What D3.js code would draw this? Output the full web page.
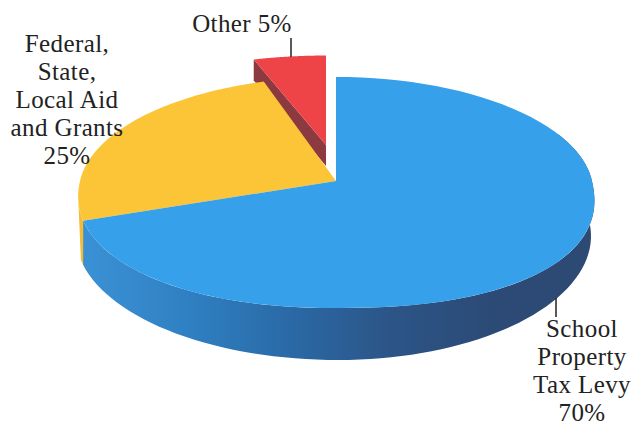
<!DOCTYPE html>
<html>
<head>
<meta charset="utf-8">
<script src="https://cdn.jsdelivr.net/npm/d3@7"></script>
<style>
html,body{margin:0;padding:0;background:#fff}
svg{display:block}
text{font-family:"Liberation Serif",serif;font-size:25px;fill:#222;text-anchor:middle;letter-spacing:.4px}
</style>
</head>
<body>
<svg id="chart" width="633" height="427"></svg>
<script>
// Revenue sources, percent of total, clockwise from twelve o'clock
const sources = ["School Property Tax Levy", "Federal, State, Local Aid and Grants", "Other"];
const shares = [70, 25, 5];
const topColors = ["#37a0ea", "#fcc538", "#ee4347"];
const wallColors = ["#3a8fd3", "#f4bb34", "#8c3a40"];
const rimStops = ["#3a90d4", "#2f80c2", "#2a69a6", "#2c5587", "#2c4a76", "#2d4a74"];
const labelLines = [["School", "Property", "Tax Levy", "70%"], ["Federal,", "State,", "Local Aid", "and Grants", "25%"], ["Other 5%"]];

const svg = d3.select("#chart");

// Tilted disc: perspective projection of a unit circle point on the top face.
// The near half is slightly squarer than a true ellipse (bulge exponents).
const disc = {cx: 336, cy: 181, a: 114.4, b: 256, k: -0.0996, bulgeLeft: 0.93, bulgeRight: 0.87};
const floor = {cx: 338, cy: 236, rxLeft: 262, rxRight: 253, ry: 124};
const project = (f, ang) => {
  let u = Math.sin(ang), v = -Math.cos(ang);
  if (v > 0 && f.bulgeLeft) {
    const e = u < 0 ? f.bulgeLeft : f.bulgeRight;
    u = Math.sign(u) * Math.pow(Math.abs(u), e);
    v = Math.pow(v, e);
  }
  const d = 1 + f.k * v;
  return [f.cx + f.b * u / d, f.cy + (f.sy || 1) * f.a * v / d];
};
const projectFloor = ang => {
  const u = Math.sin(ang);
  return [floor.cx + (u < 0 ? floor.rxLeft : floor.rxRight) * u, floor.cy - floor.ry * Math.cos(ang)];
};

const arcs = d3.pie().sort(null).value(d => d)(shares);
const samples = (a0, a1) => d3.range(0, 81).map(i => a0 + (a1 - a0) * i / 80);
const line = d3.line().curve(d3.curveLinear);

// Horizontal shading along the visible rim of the large slice
const defs = svg.append("defs");
const grad = defs.append("linearGradient").attr("id", "rim")
  .attr("gradientUnits", "userSpaceOnUse")
  .attr("x1", 90).attr("x2", 590).attr("y1", 0).attr("y2", 0);
grad.selectAll("stop").data(rimStops).join("stop")
  .attr("offset", (d, i) => i / (rimStops.length - 1))
  .attr("stop-color", d => d);

const blue = arcs[0], yellow = arcs[1], red = arcs[2];

// Yellow sliver of rim on the far left
const sliverTop = samples(yellow.startAngle - 0.02, yellow.startAngle + 0.2).map(a => project(disc, a));
const sliverFloor = samples(yellow.startAngle + 0.12, yellow.startAngle).map(projectFloor);
svg.append("path")
  .attr("d", line(sliverTop.concat(sliverFloor)) + "Z")
  .attr("fill", wallColors[1]);

// Rim of the large slice; its floor edge runs a little past the cut so the
// blue wall covers all but a sliver of the yellow one
const rimTop = samples(Math.PI * 0.36, blue.endAngle).map(a => project(disc, a));
const rimFloor = samples(blue.endAngle + 0.08, Math.PI * 0.36).map(projectFloor);
svg.append("path")
  .attr("d", line(rimTop.concat(rimFloor)) + "Z")
  .attr("fill", "url(#rim)");

// Exploded slice sits behind the others, lifted and pulled back
const lifted = {cx: 326, cy: 145, a: disc.a, b: disc.b, k: disc.k, sy: 0.86};
const wallDrop = 21;
const rEdge = project(lifted, red.startAngle);
svg.append("path")
  .attr("d", line([[lifted.cx, lifted.cy], rEdge, [rEdge[0], rEdge[1] + wallDrop], [lifted.cx, lifted.cy + wallDrop]]) + "Z")
  .attr("fill", wallColors[2]);
svg.append("path")
  .attr("d", line([[lifted.cx, lifted.cy]].concat(samples(red.startAngle, red.endAngle).map(a => project(lifted, a)))) + "Z")
  .attr("fill", topColors[2]);

// Top faces of the two seated slices
[yellow, blue].forEach(s => {
  svg.append("path")
    .attr("d", line([[disc.cx, disc.cy]].concat(samples(s.startAngle, s.endAngle).map(a => project(disc, a)))) + "Z")
    .attr("fill", topColors[s.index]);
});

// Leader lines
const leaders = [[[556, 298], [556, 317]], [[291, 38], [291, 57]]];
svg.selectAll("path.leader").data(leaders).join("path").attr("class", "leader")
  .attr("d", d => line(d)).attr("stroke", "#222").attr("stroke-width", 1.5).attr("fill", "none");

// Labels, one text element per line
const labelPos = [{x: 582, y: 337, step: 28}, {x: 67, y: 52, step: 28}, {x: 242, y: 32, step: 0}];
labelLines.forEach((lines, i) => {
  svg.append("g").selectAll("text").data(lines).join("text")
    .attr("x", labelPos[i].x)
    .attr("y", (d, j) => labelPos[i].y + j * labelPos[i].step)
    .text(d => d);
});
</script>
</body>
</html>
